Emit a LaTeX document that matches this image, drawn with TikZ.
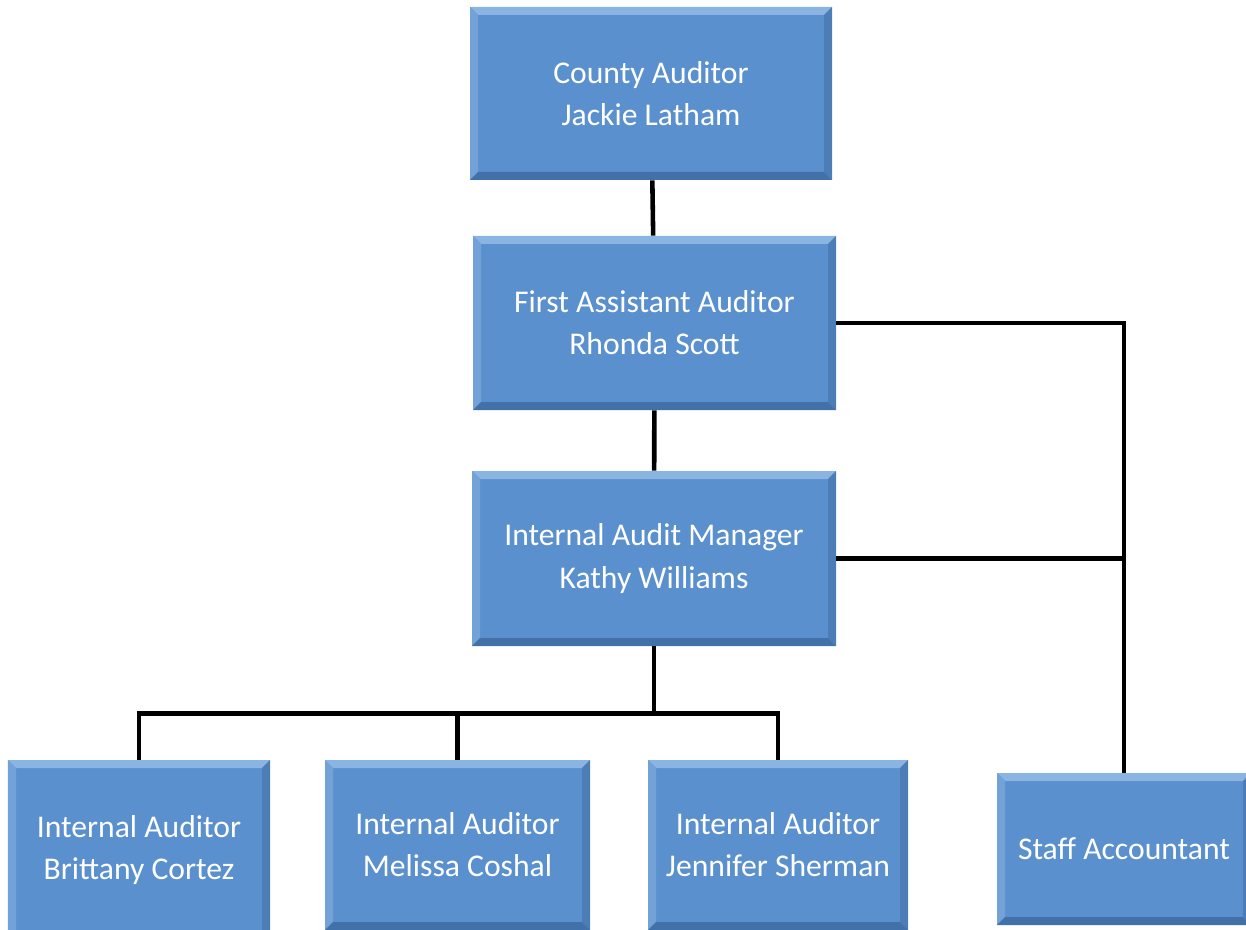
\documentclass[tikz,border=0pt]{standalone}
\usepackage{fontspec}
\setmainfont{Carlito}
\definecolor{boxblue}{RGB}{91,144,206}
\definecolor{boxlight}{RGB}{138,180,226}
\definecolor{boxdark}{RGB}{66,112,168}
\tikzset{
  box/.style={fill=boxblue, text=white, align=center, inner sep=0pt,
    font=\fontsize{18}{24}\selectfont,
    path picture={
      \fill[boxlight] (path picture bounding box.north west) -- (path picture bounding box.north east)
        -- ([shift={(-0.16,-0.16)}]path picture bounding box.north east) -- ([shift={(0.16,-0.16)}]path picture bounding box.north west) -- cycle;
      \fill[boxlight!50!boxblue] (path picture bounding box.north west) -- ([shift={(0.16,-0.16)}]path picture bounding box.north west)
        -- ([shift={(0.16,0.16)}]path picture bounding box.south west) -- (path picture bounding box.south west) -- cycle;
      \fill[boxdark] (path picture bounding box.south west) -- (path picture bounding box.south east)
        -- ([shift={(-0.16,0.16)}]path picture bounding box.south east) -- ([shift={(0.16,0.16)}]path picture bounding box.south west) -- cycle;
      \fill[boxdark!60!boxblue] (path picture bounding box.north east) -- ([shift={(-0.16,-0.16)}]path picture bounding box.north east)
        -- ([shift={(-0.16,0.16)}]path picture bounding box.south east) -- (path picture bounding box.south east) -- cycle;
    }},
  link/.style={line width=2.6pt}
}
\begin{document}
\begin{tikzpicture}
\useasboundingbox (0,0) rectangle (24.92,-18.6);
\node[box, minimum width=7.24cm, minimum height=3.46cm] (county) at (13.02,-1.87) {County Auditor\\Jackie Latham};
\node[box, minimum width=7.26cm, minimum height=3.48cm] (first) at (13.09,-6.46) {First Assistant Auditor\\Rhonda Scott};
\node[box, minimum width=7.28cm, minimum height=3.5cm] (manager) at (13.08,-11.17) {Internal Audit Manager\\Kathy Williams};
\node[box, minimum width=5.24cm, minimum height=3.6cm] (brittany) at (2.78,-17.0) {Internal Auditor\\Brittany Cortez};
\node[box, minimum width=5.3cm, minimum height=3.4cm] (melissa) at (9.15,-16.9) {Internal Auditor\\Melissa Coshal};
\node[box, minimum width=5.2cm, minimum height=3.4cm] (jennifer) at (15.56,-16.9) {Internal Auditor\\Jennifer Sherman};
\node[box, minimum width=5.08cm, minimum height=3.04cm] (staff) at (22.48,-16.98) {Staff Accountant};
\draw[link] (county) -- (first);
\draw[link] (first) -- (manager);
\draw[link] (manager.south) -- ++(0,-1.34) coordinate (split);
\draw[link] (brittany.north) |- (split) -| (jennifer.north);
\draw[link] (split -| melissa.north) -- (melissa.north);
\draw[link] (first.east) -- (first.east -| staff.north) -- (staff.north);
\draw[link] (manager.east) -- (manager.east -| staff.north);
\end{tikzpicture}
\end{document}
